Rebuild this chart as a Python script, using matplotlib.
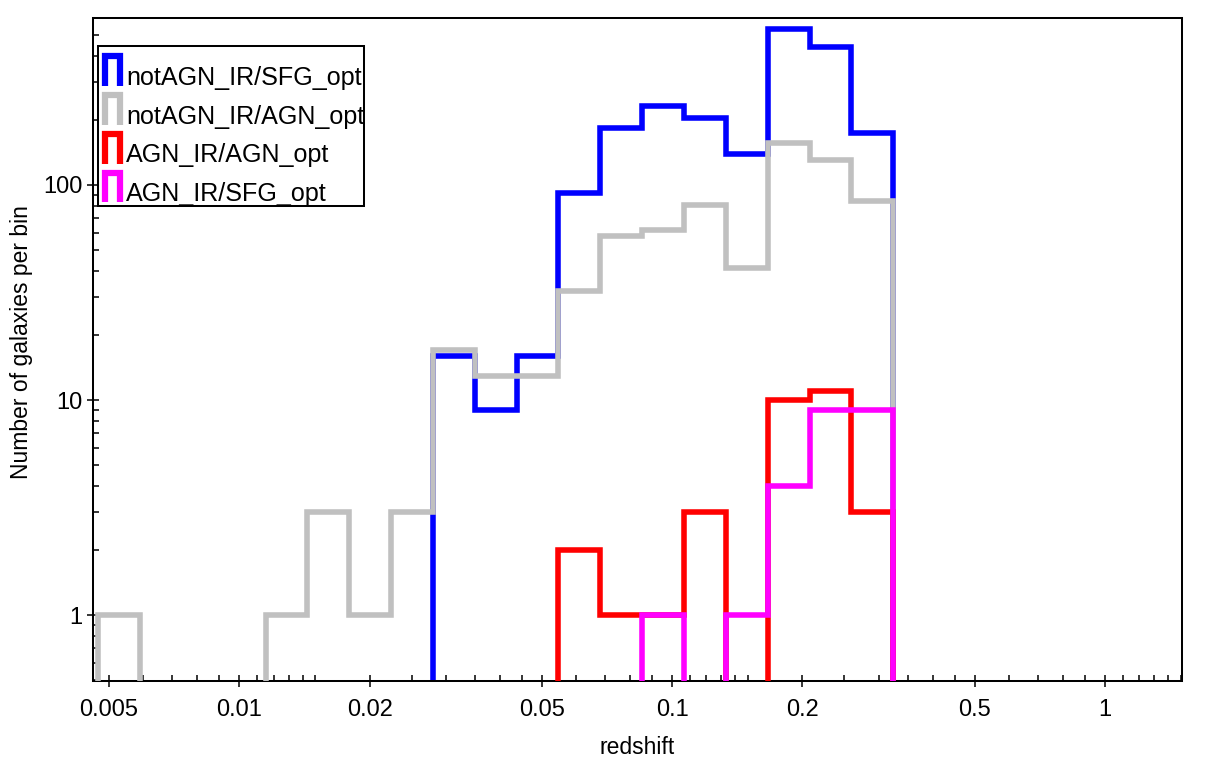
import numpy as np
import matplotlib
matplotlib.use("Agg")
import matplotlib.pyplot as plt
from matplotlib.lines import Line2D
from matplotlib.legend_handler import HandlerBase
from matplotlib.ticker import FixedLocator, NullFormatter, FixedFormatter

# ---------------- data ----------------
z_lo, z_hi, n_bins = 0.00472, 0.3243, 19
bin_edges = np.logspace(np.log10(z_lo), np.log10(z_hi), n_bins + 1)

labels = ["notAGN_IR/SFG_opt", "notAGN_IR/AGN_opt", "AGN_IR/AGN_opt", "AGN_IR/SFG_opt"]
colors = ["#0000ff", "#c0c0c0", "#ff0000", "#ff00ff"]

counts_notagn_sfg = [0, 0, 0, 0, 0, 0, 0, 0, 16, 9, 16, 92, 185, 233, 204, 139, 532, 437, 175]
counts_notagn_agn = [1, 0, 0, 0, 1, 3, 1, 3, 17, 13, 13, 32, 58, 62, 81, 41, 156, 130, 84]
counts_agn_agn = [0, 0, 0, 0, 0, 0, 0, 0, 0, 0, 0, 2, 1, 1, 3, 0, 10, 11, 3]
counts_agn_sfg = [0, 0, 0, 0, 0, 0, 0, 0, 0, 0, 0, 0, 0, 1, 0, 1, 4, 9, 9]
series = [counts_notagn_sfg, counts_notagn_agn, counts_agn_agn, counts_agn_sfg]

x_major = [0.005, 0.01, 0.02, 0.05, 0.1, 0.2, 0.5, 1]
x_major_labels = ["0.005", "0.01", "0.02", "0.05", "0.1", "0.2", "0.5", "1"]
x_minor_mult = [1.1, 1.2, 1.3, 1.4, 1.5, 2.5, 3, 3.5, 4, 4.5, 6, 7, 8, 9]
y_major = [1, 10, 100]
y_major_labels = ["1", "10", "100"]
y_minor_mult = [2, 3, 4, 5, 6, 7, 8, 9]

xlim = (0.0046, 1.504)
ylim = (0.495, 596)

# ---------------- style ----------------
plt.rcParams['font.family'] = ['Liberation Sans', 'DejaVu Sans']
W, H = 1219, 765
fig = plt.figure(figsize=(W / 100, H / 100), dpi=100)
L, R, T, B = 93.3, 1181.7, 18.3, 680.7
ax = fig.add_axes([L / W, 1 - B / H, (R - L) / W, (B - T) / H])

floor = 1e-3
for vals, col, lab, zo in zip(series, colors, labels, [2, 3, 4, 5]):
    v = np.asarray(vals, dtype=float)
    v = np.where(v > 0, v, floor)
    ax.stairs(v, bin_edges, baseline=floor, color=col, lw=4.0,
              joinstyle='miter', zorder=zo, label=lab)

ax.set_xscale('log')
ax.set_yscale('log')
ax.set_xlim(*xlim)
ax.set_ylim(*ylim)

# ticks
ax.xaxis.set_major_locator(FixedLocator(x_major))
ax.xaxis.set_major_formatter(FixedFormatter(x_major_labels))
xminor = [m * 10.0 ** d for d in range(-3, 1) for m in x_minor_mult]
ax.xaxis.set_minor_locator(FixedLocator(xminor))
ax.xaxis.set_minor_formatter(NullFormatter())
ax.yaxis.set_major_locator(FixedLocator(y_major))
ax.yaxis.set_major_formatter(FixedFormatter(y_major_labels))
yminor = [m * 10.0 ** d for d in range(-1, 3) for m in y_minor_mult]
ax.yaxis.set_minor_locator(FixedLocator(yminor))
ax.yaxis.set_minor_formatter(NullFormatter())

ax.tick_params(which='major', direction='inout', length=8.6, width=1.1,
               labelsize=17, top=False, right=False, color='black')
ax.tick_params(which='minor', direction='in', length=4.3, width=1.1,
               top=False, right=False)
ax.tick_params(axis='x', which='major', pad=9)
ax.tick_params(axis='y', which='major', pad=3.3)
for s in ax.spines.values():
    s.set_linewidth(1.45)
    s.set_color('black')

ax.set_xlabel("redshift", fontsize=16.5)
ax.set_ylabel("Number of galaxies per bin", fontsize=16.5)
ax.xaxis.set_label_coords(0.5, -0.0835)
ax.yaxis.set_label_coords(-0.0554, 0.511)

# ---------------- legend with open-bottom (Pi) handles ----------------
LEG_FS = 18.1
PI_LW = 4.5
LEFT_MARGIN = 2.9     # pt
PI_W = 10.8           # pt, centre-line width
PI_TOP = 20.5         # pt above baseline
BOX_TOP = PI_TOP + PI_LW / 2 + 5.5


class PiHandler(HandlerBase):
    def legend_artist(self, legend, orig_handle, fontsize, handlebox):
        handlebox.ydescent = 0.0
        handlebox.height = BOX_TOP
        handlebox.width = LEFT_MARGIN + PI_W + PI_LW
        x0 = LEFT_MARGIN + PI_LW / 2
        x1 = x0 + PI_W
        ln = Line2D([x0, x0, x1, x1], [-1.0, PI_TOP, PI_TOP, -1.0],
                    color=orig_handle.get_edgecolor(), lw=PI_LW,
                    solid_joinstyle='miter', solid_capstyle='butt',
                    transform=handlebox.get_transform())
        handlebox.add_artist(ln)
        return ln


handles, labs = ax.get_legend_handles_labels()
leg = ax.legend(handles, labs, loc='upper left', bbox_to_anchor=(0.00404, 0.9586),
                borderaxespad=0, borderpad=0.0, fontsize=LEG_FS,
                handler_map={type(handles[0]): PiHandler()},
                handlelength=(LEFT_MARGIN + PI_W + PI_LW) / LEG_FS,
                handletextpad=0.12, labelspacing=-0.22,
                fancybox=False, framealpha=1, edgecolor='black')
leg.get_frame().set_linewidth(1.45)
leg.set_zorder(10)

fig.savefig("out.png", dpi=100)
